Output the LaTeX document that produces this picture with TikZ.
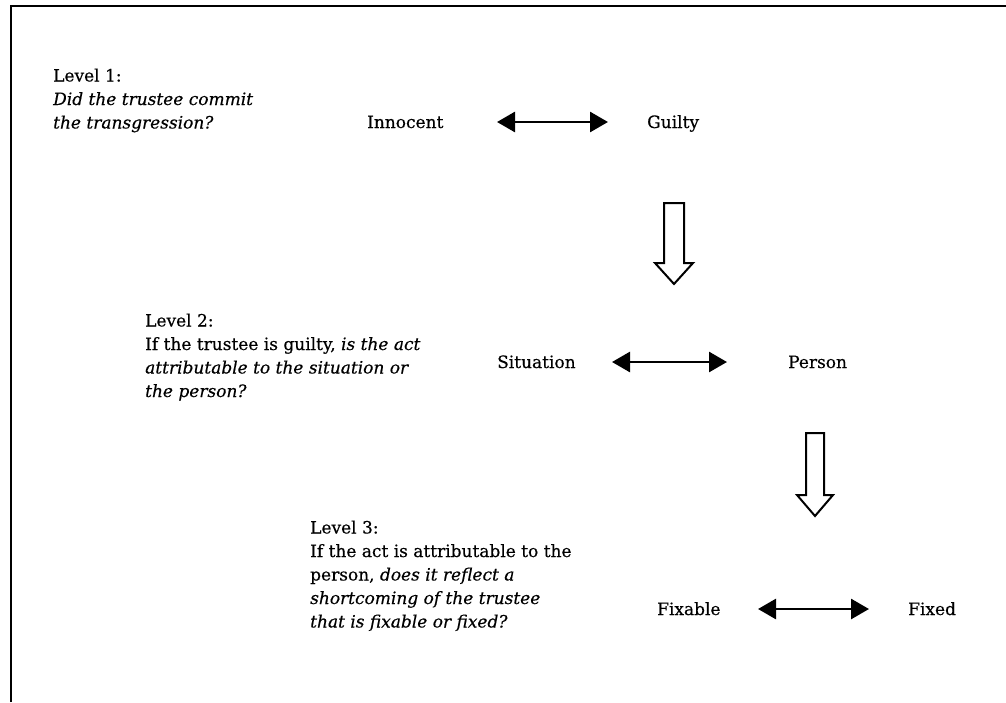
\documentclass[tikz,border=0pt]{standalone}
\usepackage{fontspec}
\setmainfont{DejaVu Serif}[FakeBold=0.4]
\usetikzlibrary{arrows.meta}
\newcommand\blkl[1]{\vtop{\baselineskip=23.5pt\lineskiplimit=-10pt #1}}
\begin{document}
\begin{tikzpicture}[x=1pt,y=-1pt,
  txt/.style={font=\fontsize{17}{23.5}\selectfont, inner sep=0pt, anchor=base west},
  dbl/.style={{Triangle[length=18pt,width=20pt]}-{Triangle[length=18pt,width=20pt]}, line width=2.8pt},
  blockarrow/.style={draw, line width=2pt, fill=white, line join=miter},
  frame/.style={line width=2.5pt}]
\useasboundingbox (0,0) rectangle (1006,702);
\draw[frame] (11,702) -- (11,6) -- (1006,6);
% level 1
\node[txt] (q1) at (53,81.5) {\blkl{\hbox{Level 1:}\hbox{\itshape Did the trustee commit}\hbox{\itshape the transgression?}}};
\node[txt] (inn) at (367,128) {Innocent};
\node[txt] (gui) at (647,128) {Guilty};
\coordinate (a1l) at (497,122);
\coordinate (a1r) at (608,122);
\draw[dbl] (a1l) -- (a1r);
\coordinate (d1) at (674,203);
\draw[blockarrow] (d1) ++(-10,0) -- ++(20,0) -- ++(0,60) -- ++(9,0) -- ++(-19,21) -- ++(-19,-21) -- ++(9,0) -- cycle;
% level 2
\node[txt] (q2) at (145,326.5) {\blkl{\hbox{Level 2:}\hbox{If the trustee is guilty, \itshape is the act}\hbox{\itshape attributable to the situation or}\hbox{\itshape the person?}}};
\node[txt] (sit) at (497,368) {Situation};
\node[txt] (per) at (788,368) {Person};
\coordinate (a2l) at (612,362);
\coordinate (a2r) at (727,362);
\draw[dbl] (a2l) -- (a2r);
\coordinate (d2) at (815,433);
\draw[blockarrow] (d2) ++(-9,0) -- ++(18,0) -- ++(0,62) -- ++(9,0) -- ++(-18,21) -- ++(-18,-21) -- ++(9,0) -- cycle;
% level 3
\node[txt] (q3) at (310,533.5) {\blkl{\hbox{Level 3:}\hbox{If the act is attributable to the}\hbox{person, \itshape does it reflect a}\hbox{\itshape shortcoming of the trustee}\hbox{\itshape that is fixable or fixed?}}};
\node[txt] (fxb) at (657,615) {Fixable};
\node[txt] (fxd) at (908,615) {Fixed};
\coordinate (a3l) at (758,609);
\coordinate (a3r) at (869,609);
\draw[dbl] (a3l) -- (a3r);
\end{tikzpicture}
\end{document}
